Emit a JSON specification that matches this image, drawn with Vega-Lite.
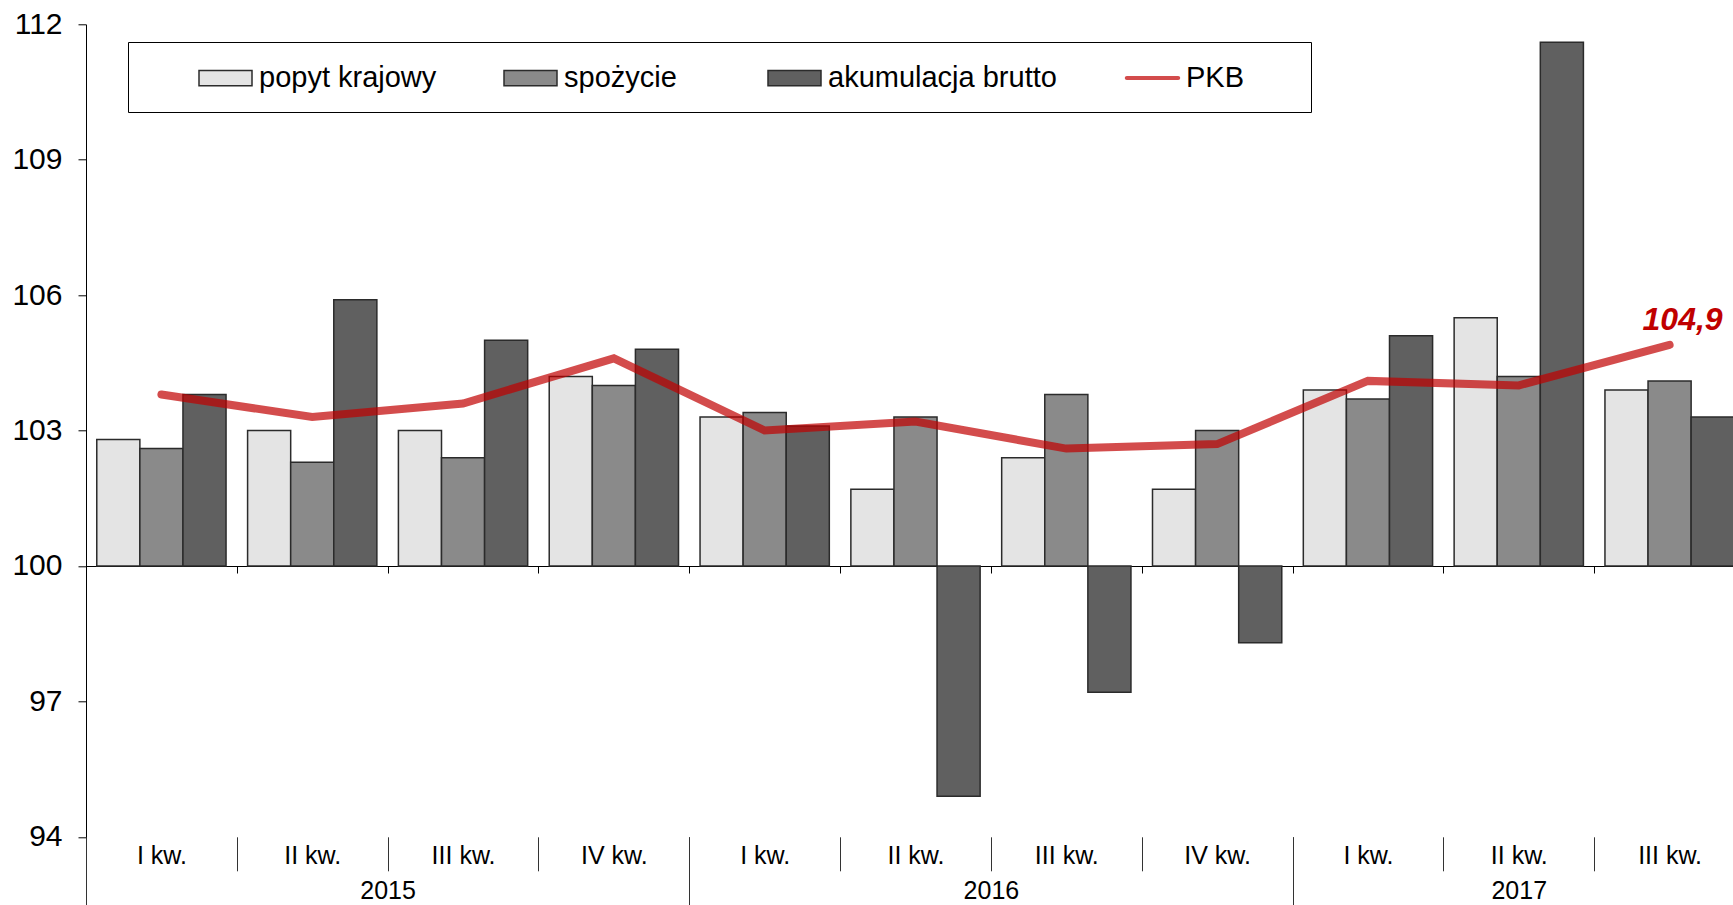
{
  "$schema": "https://vega.github.io/schema/vega-lite/v6.json",
  "width": 1647,
  "height": 812.5,
  "autosize": {"type": "none"},
  "padding": {"left": 86, "top": 24.3, "right": 0, "bottom": 68.2},
  "background": "white",
  "config": {
    "font": "Liberation Sans",
    "view": {"stroke": null},
    "axis": {"labelColor": "#000", "grid": false},
    "locale": {"number": {"decimal": ",", "thousands": " ", "grouping": [3], "currency": ["", " zł"]}}
  },
  "datasets": {
    "slupki": [
      {"okres": "2015 I kw.", "seria": "popyt krajowy", "wartosc": 102.8},
      {"okres": "2015 I kw.", "seria": "spożycie", "wartosc": 102.6},
      {"okres": "2015 I kw.", "seria": "akumulacja brutto", "wartosc": 103.8},
      {"okres": "2015 II kw.", "seria": "popyt krajowy", "wartosc": 103.0},
      {"okres": "2015 II kw.", "seria": "spożycie", "wartosc": 102.3},
      {"okres": "2015 II kw.", "seria": "akumulacja brutto", "wartosc": 105.9},
      {"okres": "2015 III kw.", "seria": "popyt krajowy", "wartosc": 103.0},
      {"okres": "2015 III kw.", "seria": "spożycie", "wartosc": 102.4},
      {"okres": "2015 III kw.", "seria": "akumulacja brutto", "wartosc": 105.0},
      {"okres": "2015 IV kw.", "seria": "popyt krajowy", "wartosc": 104.2},
      {"okres": "2015 IV kw.", "seria": "spożycie", "wartosc": 104.0},
      {"okres": "2015 IV kw.", "seria": "akumulacja brutto", "wartosc": 104.8},
      {"okres": "2016 I kw.", "seria": "popyt krajowy", "wartosc": 103.3},
      {"okres": "2016 I kw.", "seria": "spożycie", "wartosc": 103.4},
      {"okres": "2016 I kw.", "seria": "akumulacja brutto", "wartosc": 103.1},
      {"okres": "2016 II kw.", "seria": "popyt krajowy", "wartosc": 101.7},
      {"okres": "2016 II kw.", "seria": "spożycie", "wartosc": 103.3},
      {"okres": "2016 II kw.", "seria": "akumulacja brutto", "wartosc": 94.9},
      {"okres": "2016 III kw.", "seria": "popyt krajowy", "wartosc": 102.4},
      {"okres": "2016 III kw.", "seria": "spożycie", "wartosc": 103.8},
      {"okres": "2016 III kw.", "seria": "akumulacja brutto", "wartosc": 97.2},
      {"okres": "2016 IV kw.", "seria": "popyt krajowy", "wartosc": 101.7},
      {"okres": "2016 IV kw.", "seria": "spożycie", "wartosc": 103.0},
      {"okres": "2016 IV kw.", "seria": "akumulacja brutto", "wartosc": 98.3},
      {"okres": "2017 I kw.", "seria": "popyt krajowy", "wartosc": 103.9},
      {"okres": "2017 I kw.", "seria": "spożycie", "wartosc": 103.7},
      {"okres": "2017 I kw.", "seria": "akumulacja brutto", "wartosc": 105.1},
      {"okres": "2017 II kw.", "seria": "popyt krajowy", "wartosc": 105.5},
      {"okres": "2017 II kw.", "seria": "spożycie", "wartosc": 104.2},
      {"okres": "2017 II kw.", "seria": "akumulacja brutto", "wartosc": 111.6},
      {"okres": "2017 III kw.", "seria": "popyt krajowy", "wartosc": 103.9},
      {"okres": "2017 III kw.", "seria": "spożycie", "wartosc": 104.1},
      {"okres": "2017 III kw.", "seria": "akumulacja brutto", "wartosc": 103.3}
    ],
    "pkb": [
      {"okres": "2015 I kw.", "seria": "PKB", "wartosc": 103.8},
      {"okres": "2015 II kw.", "seria": "PKB", "wartosc": 103.3},
      {"okres": "2015 III kw.", "seria": "PKB", "wartosc": 103.6},
      {"okres": "2015 IV kw.", "seria": "PKB", "wartosc": 104.6},
      {"okres": "2016 I kw.", "seria": "PKB", "wartosc": 103.0},
      {"okres": "2016 II kw.", "seria": "PKB", "wartosc": 103.2},
      {"okres": "2016 III kw.", "seria": "PKB", "wartosc": 102.6},
      {"okres": "2016 IV kw.", "seria": "PKB", "wartosc": 102.7},
      {"okres": "2017 I kw.", "seria": "PKB", "wartosc": 104.1},
      {"okres": "2017 II kw.", "seria": "PKB", "wartosc": 104.0},
      {"okres": "2017 III kw.", "seria": "PKB", "wartosc": 104.9}
    ]
  },
  "layer": [
    {
      "data": {"name": "slupki"},
      "mark": {"type": "bar", "stroke": "#2b2b2b", "strokeWidth": 1.5},
      "encoding": {
        "x": {
          "field": "okres", "type": "nominal",
          "scale": {"domain": ["2015 I kw.", "2015 II kw.", "2015 III kw.", "2015 IV kw.", "2016 I kw.", "2016 II kw.", "2016 III kw.", "2016 IV kw.", "2017 I kw.", "2017 II kw.", "2017 III kw."], "range": [0, 1659], "paddingInner": 0, "paddingOuter": 0},
          "axis": {
            "orient": "bottom", "tickBand": "extent", "domain": false, "ticks": true,
            "tickSize": 34, "tickColor": "#333", "tickWidth": 1,
            "labelExpr": "isString(datum.value) ? slice(datum.value, 5) : ''", "labelPadding": -15,
            "labelBaseline": "middle", "labelAlign": "center", "labelFontSize": 25,
            "labelOverlap": false, "labelAngle": 0, "labelColor": "#000", "title": null
          }
        },
        "xOffset": {
          "field": "seria", "type": "nominal",
          "scale": {"domain": ["popyt krajowy", "spożycie", "akumulacja brutto"], "paddingInner": 0, "paddingOuter": 0.25}
        },
        "y": {
          "field": "wartosc", "type": "quantitative",
          "scale": {"domain": [94, 112], "zero": false, "nice": false},
          "axis": {
            "values": [94, 97, 100, 103, 106, 109, 112], "tickSize": 8, "tickColor": "#000",
            "domainColor": "#000", "labelFontSize": 30, "labelPadding": 16, "title": null,
            "grid": false, "labelColor": "#000", "labelFlush": false
          }
        },
        "y2": {"datum": 100},
        "color": {
          "field": "seria", "type": "nominal",
          "scale": {"domain": ["popyt krajowy", "spożycie", "akumulacja brutto", "PKB"], "range": ["#e4e4e4", "#8a8a8a", "#606060", "#c00000"]},
          "legend": {
            "orient": "none", "legendX": 42, "legendY": 17.7, "direction": "horizontal", "columns": 4,
            "title": " ", "titleOrient": "left", "titlePadding": 51.7, "titleFontSize": 29,
            "padding": 18.3, "strokeColor": "#000", "fillColor": "#fff",
            "symbolSize": 2809, "symbolType": "M-1,-0.667H1V-0.087H-1Z", "symbolStrokeWidth": 1.5,
            "symbolStrokeColor": "#2b2b2b",
            "labelFontSize": 29, "labelColor": "#000", "labelOffset": 6, "columnPadding": 64, "labelLimit": 500,
            "labelExpr": "datum.label === 'PKB' ? 'PKB\u00a0\u00a0\u00a0\u00a0\u00a0\u00a0\u200b' : datum.label === 'spożycie' ? 'spożycie\u00a0\u00a0\u00a0\u200b' : datum.label",
            "encoding": {
              "labels": {"dy": {"value": -10}},
              "symbols": {
                "shape": {"condition": {"test": "datum.value === 'PKB'", "value": "M-0.97,-0.452H0.97A0.075,0.075 0 0 1 0.97,-0.302H-0.97A0.075,0.075 0 0 1 -0.97,-0.452Z"}, "value": "M-1,-0.667H1V-0.087H-1Z"},
                "stroke": {"condition": {"test": "datum.value === 'PKB'", "value": "transparent"}, "value": "#2b2b2b"},
                "fillOpacity": {"condition": {"test": "datum.value === 'PKB'", "value": 0.7}, "value": 1}
              }
            }
          }
        }
      }
    },
    {
      "data": {"name": "pkb"},
      "mark": {"type": "line", "color": "#c00000", "strokeWidth": 8, "strokeCap": "round", "strokeJoin": "miter", "opacity": 0.7},
      "encoding": {
        "x": {
          "field": "okres", "type": "nominal",
          "scale": {"domain": ["2015 I kw.", "2015 II kw.", "2015 III kw.", "2015 IV kw.", "2016 I kw.", "2016 II kw.", "2016 III kw.", "2016 IV kw.", "2017 I kw.", "2017 II kw.", "2017 III kw."], "range": [0, 1659], "paddingInner": 0, "paddingOuter": 0},
          "axis": {
            "orient": "bottom", "offset": -270.8, "tickBand": "extent", "domain": true,
            "domainColor": "#000", "domainWidth": 1.2, "ticks": true, "tickSize": 7,
            "tickColor": "#000", "labels": false, "title": null
          }
        },
        "y": {"field": "wartosc", "type": "quantitative"}
      }
    },
    {
      "data": {"name": "pkb"},
      "transform": [{"filter": "datum.okres === '2017 III kw.'"}],
      "mark": {"type": "text", "color": "#c00000", "fontWeight": "bold", "fontStyle": "italic", "fontSize": 32, "align": "center", "baseline": "alphabetic", "dx": 13, "dy": -15},
      "encoding": {
        "x": {
          "field": "okres", "type": "nominal",
          "scale": {"domain": ["2015 I kw.", "2015 II kw.", "2015 III kw.", "2015 IV kw.", "2016 I kw.", "2016 II kw.", "2016 III kw.", "2016 IV kw.", "2017 I kw.", "2017 II kw.", "2017 III kw."], "range": [0, 1659], "paddingInner": 0, "paddingOuter": 0},
          "axis": {
            "orient": "bottom", "tickBand": "extent", "domain": false, "ticks": true, "tickSize": 70,
            "tickColor": "#333", "tickWidth": 1,
            "tickOpacity": {"condition": {"test": "!isString(datum.value) || indexof(datum.value, 'IV kw.') >= 0", "value": 1}, "value": 0},
            "labelExpr": "datum.value === '2015 II kw.' || datum.value === '2016 II kw.' || datum.value === '2017 II kw.' ? slice(datum.value, 0, 4) : ''",
            "labelOffset": {"condition": {"test": "datum.value === '2017 II kw.'", "value": 0}, "value": 75.4},
            "labelPadding": -16, "labelBaseline": "middle", "labelAlign": "center", "labelFontSize": 25,
            "labelOverlap": false, "labelAngle": 0, "labelColor": "#000", "title": null
          }
        },
        "y": {"field": "wartosc", "type": "quantitative"},
        "text": {"field": "wartosc", "type": "quantitative", "format": ".1f"}
      }
    }
  ],
  "resolve": {"scale": {"x": "independent"}, "axis": {"x": "independent"}}
}
